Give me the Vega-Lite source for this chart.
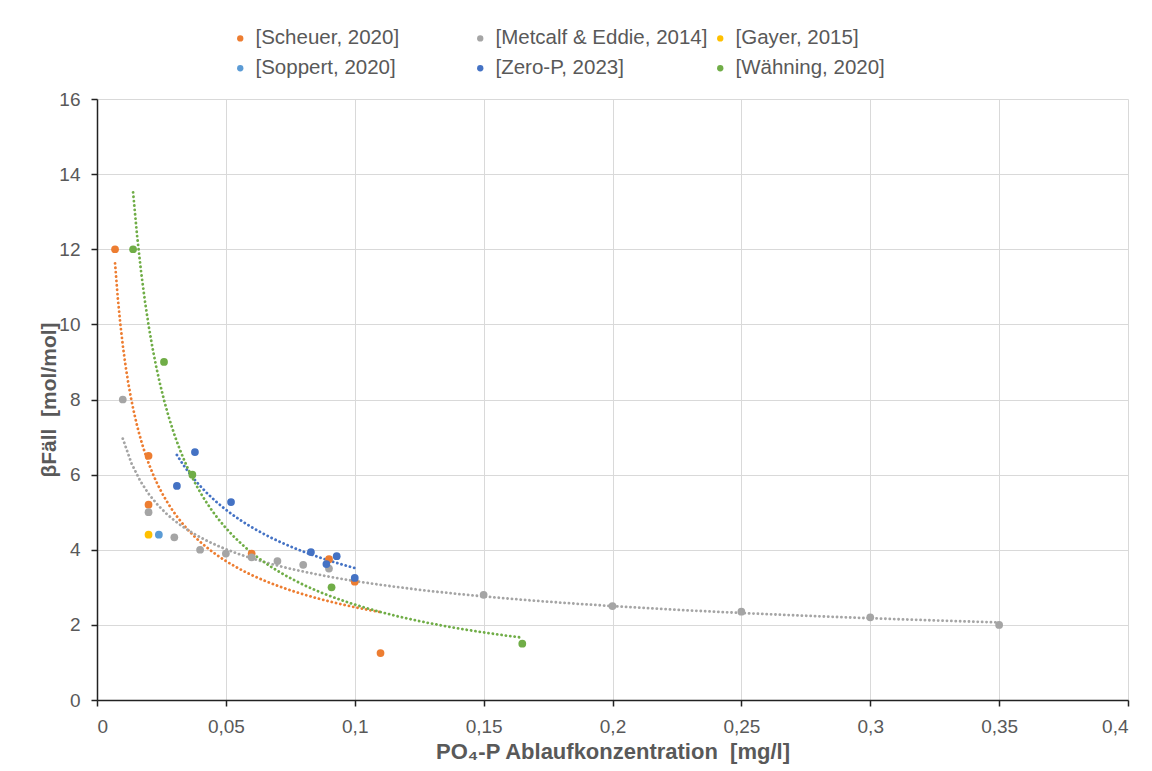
{
  "$schema": "https://vega.github.io/schema/vega-lite/v6.json",
  "width": 1031,
  "height": 601,
  "autosize": {"type": "none"},
  "padding": {"left": 97, "top": 99, "right": 24, "bottom": 71},
  "background": "white",
  "config": {
    "view": {"stroke": null},
    "font": "Liberation Sans",
    "axis": {
      "labelFont": "Liberation Sans",
      "labelFontSize": 19,
      "labelColor": "#595959",
      "titleFont": "Liberation Sans",
      "titleFontSize": 21,
      "titleFontWeight": "bold",
      "titleColor": "#595959",
      "gridColor": "#D9D9D9",
      "gridWidth": 1,
      "domainColor": "#222222",
      "domainWidth": 1.5,
      "tickColor": "#222222",
      "tickWidth": 1.5,
      "tickSize": 6
    },
    "legend": {
      "labelFont": "Liberation Sans",
      "labelFontSize": 20.5,
      "labelColor": "#595959"
    }
  },
  "data": {
    "values": [
      {"s": "[Scheuer, 2020]", "x": 0.007, "y": 12},
      {"s": "[Scheuer, 2020]", "x": 0.02, "y": 6.5},
      {"s": "[Scheuer, 2020]", "x": 0.02, "y": 5.2},
      {"s": "[Scheuer, 2020]", "x": 0.06, "y": 3.9},
      {"s": "[Scheuer, 2020]", "x": 0.09, "y": 3.75},
      {"s": "[Scheuer, 2020]", "x": 0.1, "y": 3.15},
      {"s": "[Scheuer, 2020]", "x": 0.11, "y": 1.25},
      {"s": "[Metcalf & Eddie, 2014]", "x": 0.01, "y": 8},
      {"s": "[Metcalf & Eddie, 2014]", "x": 0.02, "y": 5},
      {"s": "[Metcalf & Eddie, 2014]", "x": 0.03, "y": 4.33},
      {"s": "[Metcalf & Eddie, 2014]", "x": 0.04, "y": 4},
      {"s": "[Metcalf & Eddie, 2014]", "x": 0.05, "y": 3.9},
      {"s": "[Metcalf & Eddie, 2014]", "x": 0.06, "y": 3.8},
      {"s": "[Metcalf & Eddie, 2014]", "x": 0.07, "y": 3.7},
      {"s": "[Metcalf & Eddie, 2014]", "x": 0.08, "y": 3.6},
      {"s": "[Metcalf & Eddie, 2014]", "x": 0.09, "y": 3.5},
      {"s": "[Metcalf & Eddie, 2014]", "x": 0.15, "y": 2.8},
      {"s": "[Metcalf & Eddie, 2014]", "x": 0.2, "y": 2.5},
      {"s": "[Metcalf & Eddie, 2014]", "x": 0.25, "y": 2.35},
      {"s": "[Metcalf & Eddie, 2014]", "x": 0.3, "y": 2.2},
      {"s": "[Metcalf & Eddie, 2014]", "x": 0.35, "y": 2.0},
      {"s": "[Gayer, 2015]", "x": 0.02, "y": 4.4},
      {"s": "[Soppert, 2020]", "x": 0.024, "y": 4.4},
      {"s": "[Zero-P, 2023]", "x": 0.031, "y": 5.7},
      {"s": "[Zero-P, 2023]", "x": 0.038, "y": 6.6},
      {"s": "[Zero-P, 2023]", "x": 0.052, "y": 5.27},
      {"s": "[Zero-P, 2023]", "x": 0.083, "y": 3.94},
      {"s": "[Zero-P, 2023]", "x": 0.089, "y": 3.62},
      {"s": "[Zero-P, 2023]", "x": 0.093, "y": 3.83},
      {"s": "[Zero-P, 2023]", "x": 0.1, "y": 3.25},
      {"s": "[Wähning, 2020]", "x": 0.014, "y": 12},
      {"s": "[Wähning, 2020]", "x": 0.026, "y": 9},
      {"s": "[Wähning, 2020]", "x": 0.037, "y": 6},
      {"s": "[Wähning, 2020]", "x": 0.091, "y": 3},
      {"s": "[Wähning, 2020]", "x": 0.165, "y": 1.5}
    ]
  },
  "encoding": {
    "x": {
      "field": "x",
      "type": "quantitative",
      "scale": {"domain": [0, 0.4], "nice": false, "zero": false},
      "axis": {
        "values": [0, 0.05, 0.1, 0.15, 0.2, 0.25, 0.3, 0.35, 0.4],
        "labelExpr": "replace(format(datum.value, '~g'), '.', ',')",
        "labelPadding": 11,
        "title": "PO₄-P Ablaufkonzentration\u00a0\u00a0[mg/l]",
        "titleFontSize": 22,
        "titlePadding": 5
      }
    },
    "y": {
      "field": "y",
      "type": "quantitative",
      "scale": {"domain": [0, 16], "nice": false},
      "axis": {
        "values": [0, 2, 4, 6, 8, 10, 12, 14, 16],
        "labelPadding": 11,
        "title": "βFäll\u00a0\u00a0[mol/mol]",
        "titlePadding": -1
      }
    },
    "color": {
      "field": "s",
      "type": "nominal",
      "scale": {
        "domain": ["[Scheuer, 2020]", "[Metcalf & Eddie, 2014]", "[Gayer, 2015]", "[Soppert, 2020]", "[Zero-P, 2023]", "[Wähning, 2020]"],
        "range": ["#ED7D31", "#A5A5A5", "#FFC000", "#5B9BD5", "#4472C4", "#70AD47"]
      },
      "legend": {
        "title": null,
        "orient": "none",
        "direction": "horizontal",
        "legendX": 133,
        "legendY": -71,
        "columns": 3,
        "gridAlign": "all",
        "columnPadding": 2,
        "rowPadding": 9,
        "labelLimit": 400,
        "symbolType": "circle",
        "symbolSize": 40,
        "symbolStrokeWidth": 0,
        "symbolDash": [],
        "symbolOpacity": 1,
        "symbolFillOpacity": 1,
        "labelOffset": 5
      }
    }
  },
  "layer": [
    {
      "transform": [
        {"filter": {"field": "s", "oneOf": ["[Scheuer, 2020]", "[Metcalf & Eddie, 2014]", "[Zero-P, 2023]", "[Wähning, 2020]"]}},
        {"regression": "y", "on": "x", "groupby": ["s"], "method": "pow"}
      ],
      "mark": {"type": "line", "strokeDash": [0.1, 4.3], "strokeCap": "round", "strokeWidth": 2.8}
    },
    {
      "mark": {"type": "point", "filled": true, "opacity": 1, "size": 60, "shape": "circle"}
    }
  ]
}
